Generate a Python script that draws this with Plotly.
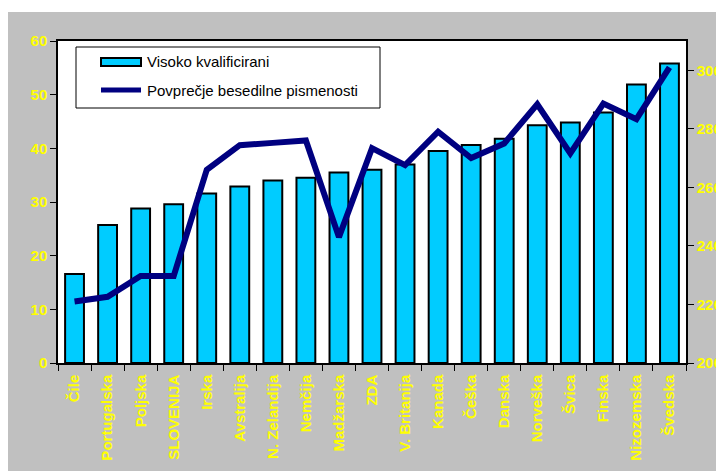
import plotly.graph_objects as go

COUNTRIES = ["Čile", "Portugalska", "Poljska", "SLOVENIJA", "Irska", "Avstralija",
             "N. Zelandija", "Nemčija", "Madžarska", "ZDA", "V. Britanija", "Kanada",
             "Češka", "Danska", "Norveška", "Švica", "Finska", "Nizozemska", "Švedska"]
HIGH_SKILLED = [16.6, 25.7, 28.8, 29.6, 31.6, 32.9, 34.0, 34.5, 35.5, 36.0,
                37.0, 39.5, 40.6, 41.8, 44.3, 44.8, 46.7, 51.9, 55.8]
PROSE_LITERACY = [221, 222.6, 229.7, 229.7, 266, 274.4, 275.2, 276, 243, 273.4,
                  267.6, 279, 270, 275, 288.4, 271.6, 288.6, 283.3, 301]
LEFT_TICKS = [0, 10, 20, 30, 40, 50, 60]
RIGHT_TICKS = [200, 220, 240, 260, 280, 300]
SERIES_NAMES = ["Visoko kvalificirani", "Povprečje besedilne pismenosti"]

FONT = "Liberation Sans, Arial, sans-serif"
YELLOW = "#FFFF00"
GREY = "#C0C0C0"
NAVY = "#000080"
CYAN = "#00CCFF"
# page body has an 8px margin, so the figure is 8px smaller than the window
OFF = 8
W, H = 724 - OFF, 471 - OFF
ML, MR, MT, MB = 58 - OFF, 724 - 686, 41 - OFF, 471 - 363
PW, PH = W - ML - MR, H - MT - MB


# helpers: window pixel -> paper coordinate
def px_x(x):
    return (x - OFF - ML) / PW


def px_y(y):
    return 1 - (y - OFF - MT) / PH


fig = go.Figure()
fig.add_trace(go.Bar(
    x=COUNTRIES, y=HIGH_SKILLED, name=SERIES_NAMES[0],
    marker=dict(color=CYAN, line=dict(color="black", width=2)),
))
fig.add_trace(go.Scatter(
    x=COUNTRIES, y=PROSE_LITERACY, name=SERIES_NAMES[1],
    mode="lines", line=dict(color=NAVY, width=6),
    yaxis="y2",
))

# white strip at the top of the picture
fig.add_shape(type="rect", xref="paper", yref="paper",
              x0=px_x(0), x1=px_x(730), y0=px_y(12), y1=px_y(0),
              fillcolor="white", line_width=0, layer="above")

# legend drawn by hand (wide bar swatch like the original)
fig.add_shape(type="rect", xref="paper", yref="paper",
              x0=px_x(76), x1=px_x(380), y0=px_y(108), y1=px_y(47),
              fillcolor="white", line=dict(color="black", width=1), layer="above")
fig.add_shape(type="rect", xref="paper", yref="paper",
              x0=px_x(101), x1=px_x(141), y0=px_y(66), y1=px_y(58),
              fillcolor=CYAN, line=dict(color="black", width=2), layer="above")
fig.add_shape(type="line", xref="paper", yref="paper",
              x0=px_x(101), x1=px_x(141), y0=px_y(90), y1=px_y(90),
              line=dict(color=NAVY, width=5), layer="above")
for name, yy in zip(SERIES_NAMES, [62, 90]):
    fig.add_annotation(
        text=name, xref="paper", yref="paper", x=px_x(145), y=px_y(yy),
        xanchor="left", yanchor="middle", showarrow=False,
        font=dict(family=FONT, size=15, color="black"),
    )

tick_font = dict(family=FONT, size=15, color=YELLOW, weight="bold")
fig.update_layout(
    width=W, height=H,
    paper_bgcolor=GREY, plot_bgcolor="white",
    margin=dict(l=ML, r=MR, t=MT, b=MB),
    font=dict(family=FONT, size=15, color="black"),
    showlegend=False,
    bargap=0.43,
    xaxis=dict(
        type="category", tickangle=-90, tickfont=tick_font,
        showline=True, linecolor="black", linewidth=1.5, mirror=True,
        ticks="outside", tickson="boundaries", ticklen=6, tickcolor="black",
        ticklabelstandoff=4,
        showgrid=False, automargin=False,
    ),
    yaxis=dict(
        range=[0, 60], tickvals=LEFT_TICKS, tickfont=tick_font,
        showline=True, linecolor="black", linewidth=1.5,
        ticks="outside", ticklen=6, tickcolor="black",
        showgrid=False, zeroline=False, automargin=False,
    ),
    yaxis2=dict(
        range=[200, 310], tickvals=RIGHT_TICKS, tickfont=tick_font,
        overlaying="y", side="right",
        showline=True, linecolor="black", linewidth=1.5,
        ticks="outside", ticklen=6, tickcolor="black",
        showgrid=False, zeroline=False, automargin=False,
    ),
)

fig.write_html("out.html")
